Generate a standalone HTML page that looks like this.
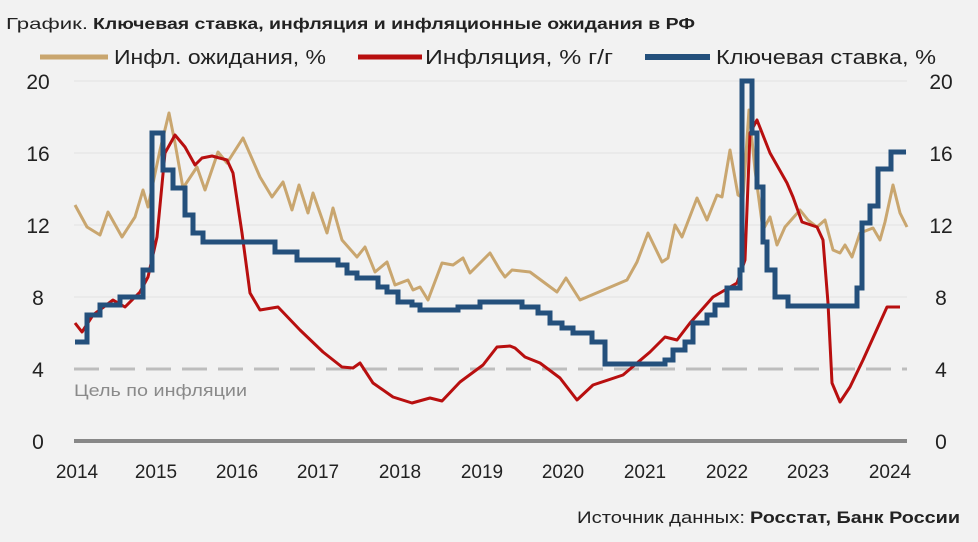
<!DOCTYPE html><html><head><meta charset="utf-8"><style>
body{margin:0;background:#f2f2f2;}
svg{display:block;font-family:"Liberation Sans","DejaVu Sans",sans-serif;}
</style></head><body>
<svg width="978" height="542" viewBox="0 0 978 542">
<rect width="978" height="542" fill="#f2f2f2"/>
<text x="6" y="29" font-size="16" fill="#222" textLength="82" lengthAdjust="spacingAndGlyphs">График.</text>
<text x="93" y="29" font-size="16" font-weight="bold" fill="#222" textLength="602" lengthAdjust="spacingAndGlyphs">Ключевая ставка, инфляция и инфляционные ожидания в РФ</text>
<line x1="40" y1="57" x2="108" y2="57" stroke="#c9a66f" stroke-width="5"/>
<text x="114" y="64" font-size="20" fill="#222" textLength="212" lengthAdjust="spacingAndGlyphs">Инфл. ожидания, %</text>
<line x1="358" y1="57" x2="422" y2="57" stroke="#b80f0f" stroke-width="5"/>
<text x="425" y="64" font-size="20" fill="#222" textLength="188" lengthAdjust="spacingAndGlyphs">Инфляция, % г/г</text>
<line x1="645" y1="57" x2="710" y2="57" stroke="#24507c" stroke-width="6"/>
<text x="716" y="64" font-size="20" fill="#222" textLength="220" lengthAdjust="spacingAndGlyphs">Ключевая ставка, %</text>
<g stroke="#e2e2e2" stroke-width="1">
<line x1="74" y1="81" x2="907" y2="81"/><line x1="74" y1="153" x2="907" y2="153"/>
<line x1="74" y1="225" x2="907" y2="225"/><line x1="74" y1="297" x2="907" y2="297"/>
</g>
<line x1="74" y1="369" x2="907" y2="369" stroke="#bdbdbd" stroke-width="3" stroke-dasharray="25,11"/>
<line x1="74" y1="441" x2="907" y2="441" stroke="#888" stroke-width="4"/>
<text x="74" y="396" font-size="17" fill="#8a8a8a" textLength="173" lengthAdjust="spacingAndGlyphs">Цель по инфляции</text>
<g font-size="21" fill="#222" text-anchor="middle">
<text x="38" y="89">20</text><text x="38" y="161">16</text><text x="38" y="233">12</text><text x="38" y="305">8</text><text x="38" y="377">4</text><text x="38" y="449">0</text>
<text x="941" y="89">20</text><text x="941" y="161">16</text><text x="941" y="233">12</text><text x="941" y="305">8</text><text x="941" y="377">4</text><text x="941" y="449">0</text>
</g>
<g font-size="19" fill="#222" text-anchor="middle">
<text x="77" y="478">2014</text><text x="156" y="478">2015</text><text x="237" y="478">2016</text><text x="318" y="478">2017</text><text x="400" y="478">2018</text><text x="482" y="478">2019</text><text x="563" y="478">2020</text><text x="645" y="478">2021</text><text x="727" y="478">2022</text><text x="808" y="478">2023</text><text x="890" y="478">2024</text>
</g>
<polyline fill="none" stroke="#c9a66f" stroke-width="3" stroke-linejoin="round" points="75,205 87,227 100,235 108,212 122,237 135,217 143,190 148,207 160,150 169,113 175,143 183,188 197,167 205,190 218,152 227,163 243,138 260,177 272,197 283,182 292,210 299,185 308,213 313,193 327,233 333,208 342,240 357,257 365,247 375,272 387,262 395,285 408,280 413,290 420,287 428,300 442,263 453,265 463,258 470,273 490,253 500,270 505,277 512,270 530,272 557,292 566,278 580,300 627,280 637,262 648,233 662,262 668,258 675,225 682,237 697,198 707,220 717,195 722,197 730,150 738,195 743,198 749,110 755,170 763,230 770,217 777,245 785,227 800,210 808,220 817,227 825,220 833,250 840,253 845,245 852,257 860,233 873,228 880,240 885,222 893,185 900,213 907,227"/>
<polyline fill="none" stroke="#b80f0f" stroke-width="3" stroke-linejoin="round" points="75,323 82,332 93,315 113,300 125,307 140,292 148,277 157,237 165,153 175,135 185,147 195,165 202,158 212,156 227,160 233,173 242,233 250,293 260,310 278,307 300,330 323,352 342,367 353,368 360,363 373,383 393,397 412,403 430,398 442,401 460,382 483,365 497,347 510,346 515,348 525,357 540,363 560,378 577,400 593,385 623,375 650,352 665,337 677,340 690,323 713,297 737,283 745,260 750,133 757,120 770,153 787,183 793,197 802,222 817,227 823,240 828,303 832,383 840,402 850,387 863,360 887,307 900,307"/>
<polyline fill="none" stroke="#24507c" stroke-width="5" stroke-linejoin="miter" points="75,342 87,342 87,315 100,315 100,305 120,305 120,297 143,297 143,270 152,270 152,133 163,133 163,170 173,170 173,188 185,188 185,215 193,215 193,233 203,233 203,242 275,242 275,252 297,252 297,260 338,260 338,265 347,265 347,273 357,273 357,278 378,278 378,287 387,287 387,292 398,292 398,302 412,302 412,305 420,305 420,310 458,310 458,307 480,307 480,302 522,302 522,307 538,307 538,313 550,313 550,323 562,323 562,328 573,328 573,333 592,333 592,342 605,342 605,364 665,364 665,360 673,360 673,350 685,350 685,342 693,342 693,323 707,323 707,315 715,315 715,305 727,305 727,288 740,288 740,270 742,270 742,81 752,81 752,133 757,133 757,187 763,187 763,242 767,242 767,270 775,270 775,297 788,297 788,306 857,306 857,288 862,288 862,223 870,223 870,206 878,206 878,169 891,169 891,152 906,152"/>
<text x="577" y="523" font-size="17" fill="#222" textLength="168" lengthAdjust="spacingAndGlyphs">Источник данных:</text>
<text x="750" y="523" font-size="17" font-weight="bold" fill="#222" textLength="210" lengthAdjust="spacingAndGlyphs">Росстат, Банк России</text>
</svg>
</body></html>
